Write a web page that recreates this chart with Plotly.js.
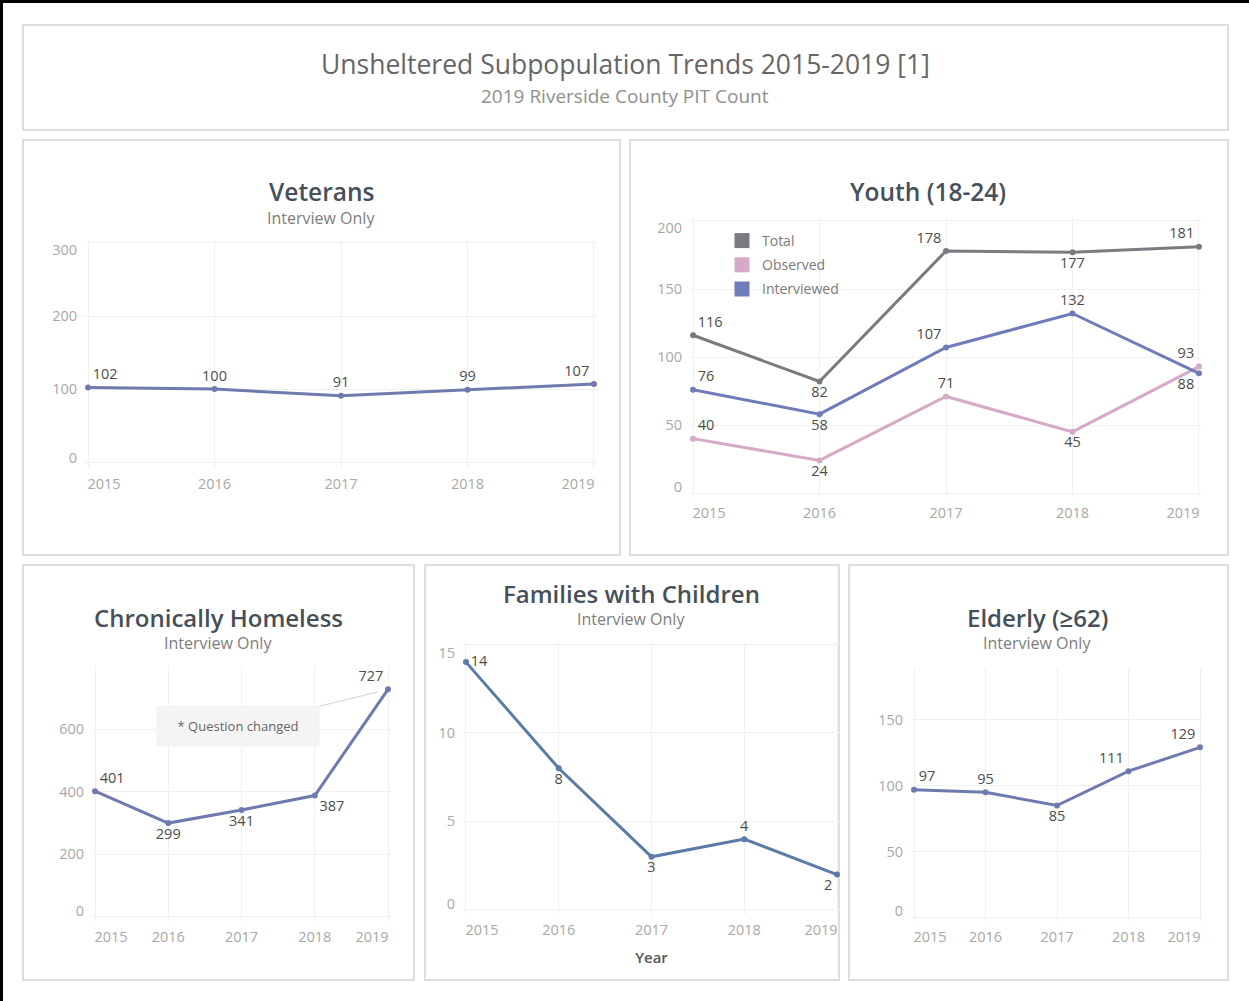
<!DOCTYPE html>
<html>
<head>
<meta charset="utf-8">
<script src="https://cdn.plot.ly/plotly-3.0.1.min.js"></script>
<style>
  html, body { margin: 0; padding: 0; background: #ffffff; }
  #chart { width: 1249px; height: 1001px; }
</style>
</head>
<body>
<div id="chart"></div>
<script>
// ---------------- DATA ----------------
const years = [2015, 2016, 2017, 2018, 2019];
const yearLabels = ["2015", "2016", "2017", "2018", "2019"];

const veterans = [102, 100, 91, 99, 107];

const youthTotal = [116, 82, 178, 177, 181];
const youthObserved = [40, 24, 71, 45, 93];
const youthInterviewed = [76, 58, 107, 132, 88];

const chronic = [401, 299, 341, 387, 727];
const families = [14, 8, 3, 4, 2];
const elderly = [97, 95, 85, 111, 129];

const veteransTicks = [0, 100, 200, 300];
const youthTicks = [0, 50, 100, 150, 200];
const chronicTicks = [0, 200, 400, 600];
const familiesTicks = [0, 5, 10, 15];
const elderlyTicks = [0, 50, 100, 150];

const mainTitle = "Unsheltered Subpopulation Trends 2015-2019 [1]";
const mainSubtitle = "2019 Riverside County PIT Count";
const interviewNote = "Interview Only";
const questionNote = "* Question changed";

// ---------------- LAYOUT HELPERS ----------------
const W = 1249, H = 1001;
const FONT = '"Open Sans", "Noto Sans", sans-serif';

const C_LINE = '#6f7aae';
const C_TOTAL = '#7a7a80';
const C_OBS = '#d6a9c8';
const C_INT = '#6f7cb8';
const C_FAM = '#5a7ba8';
const C_LABEL = '#4d4d4d';
const GRID = '#f0f0f0';
const TICKFONT = { family: FONT, size: 14.5, color: '#a8a8a8' };

function lineTrace(y, color, xa, ya, positions, name) {
  return {
    type: 'scatter', mode: 'lines+markers+text',
    x: years, y: y, xaxis: xa, yaxis: ya,
    name: name || '', showlegend: false,
    line: { color: color, width: 3 },
    marker: { color: color, size: 6 },
    text: y.map(String),
    textposition: positions,
    textfont: { family: FONT, size: 14.5, color: C_LABEL },
    cliponaxis: false,
    hoverinfo: 'x+y'
  };
}

const traces = [
  lineTrace(veterans, C_LINE, 'x', 'y',
    ['top right', 'top center', 'top center', 'top center', 'top left']),
  lineTrace(youthTotal, C_TOTAL, 'x2', 'y2',
    ['top right', 'bottom center', 'top left', 'bottom center', 'top left'], 'Total'),
  lineTrace(youthObserved, C_OBS, 'x2', 'y2',
    ['top right', 'bottom center', 'top center', 'bottom center', 'top left'], 'Observed'),
  lineTrace(youthInterviewed, C_INT, 'x2', 'y2',
    ['top right', 'bottom center', 'top left', 'top center', 'bottom left'], 'Interviewed'),
  lineTrace(chronic, C_LINE, 'x3', 'y3',
    ['top right', 'bottom center', 'bottom center', 'bottom right', 'top left']),
  lineTrace(families, C_FAM, 'x4', 'y4',
    ['middle right', 'bottom center', 'bottom center', 'top center', 'bottom left']),
  lineTrace(elderly, C_LINE, 'x5', 'y5',
    ['top right', 'top center', 'bottom center', 'top left', 'top left'])
];

// legend swatches (squares) for the Youth panel
[['Total', C_TOTAL], ['Observed', C_OBS], ['Interviewed', C_INT]].forEach(([n, c], i) => {
  traces.push({
    type: 'scatter', mode: 'markers', x: [null], y: [null],
    xaxis: 'x2', yaxis: 'y2', name: n, showlegend: true,
    legendgroup: 'g' + i,
    marker: { symbol: 'square', size: 15, color: c }
  });
});

// Tableau-style: end tick labels are kept inside the axis extent
function clampLabels(vals, range, pxLen, halfPx) {
  const scale = pxLen / (range[1] - range[0]);
  const lo = range[0] + halfPx / scale, hi = range[1] - halfPx / scale;
  return vals.map(v => Math.min(hi, Math.max(lo, v)));
}

function xAxis(l, r, range, anchor, extra) {
  return Object.assign({
    domain: [l / W, r / W], range: range, type: 'linear',
    tickmode: 'array',
    tickvals: clampLabels(years, range, r - l, 19), ticktext: yearLabels,
    showgrid: false,
    minor: { tickmode: 'array', tickvals: years, showgrid: true, gridcolor: GRID, gridwidth: 1, ticks: '' },
    zeroline: false, showline: false, ticks: '',
    ticklabelstandoff: 5,
    tickfont: TICKFONT, anchor: anchor, fixedrange: true
  }, extra || {});
}
function yAxis(t, b, range, ticks, anchor) {
  return {
    domain: [1 - b / H, 1 - t / H], range: range, type: 'linear',
    tickmode: 'array',
    tickvals: clampLabels(ticks, range, b - t, 10), ticktext: ticks.map(String),
    showgrid: false,
    minor: { tickmode: 'array', tickvals: ticks, showgrid: true, gridcolor: GRID, gridwidth: 1, ticks: '' },
    zeroline: false, showline: false, ticks: '',
    ticklabelstandoff: 7,
    tickfont: TICKFONT, anchor: anchor, fixedrange: true
  };
}

// panel boxes
const boxes = [
  [23, 25, 1228, 130],
  [23, 140, 620, 555],
  [630, 140, 1228, 555],
  [23, 565, 414, 980],
  [425, 565, 839, 980],
  [849, 565, 1228, 980]
];
const shapes = boxes.map(b => ({
  type: 'rect', xref: 'paper', yref: 'paper',
  x0: b[0] / W, x1: b[2] / W, y0: 1 - b[3] / H, y1: 1 - b[1] / H,
  line: { color: '#dedede', width: 2 }, fillcolor: 'rgba(0,0,0,0)', layer: 'below'
}));
// black frame on top and left edges
shapes.push({ type: 'line', xref: 'paper', yref: 'paper', x0: 0, x1: 1, y0: 1 - 1.5 / H, y1: 1 - 1.5 / H, line: { color: '#000', width: 3 } });
shapes.push({ type: 'line', xref: 'paper', yref: 'paper', x0: 1.5 / W, x1: 1.5 / W, y0: 0, y1: 1, line: { color: '#000', width: 3 } });

function textAnn(text, cx, cy, size, color, weight) {
  return {
    text: text, xref: 'paper', yref: 'paper', x: cx / W, y: 1 - cy / H,
    xanchor: 'center', yanchor: 'middle', showarrow: false,
    font: { family: FONT, size: size, color: color, weight: weight || 400 }
  };
}

const TITLE_C = '#46505a';
const SUB_C = '#7d7d7d';
const annotations = [
  textAnn(mainTitle, 625, 64, 26.5, '#666666'),
  textAnn(mainSubtitle, 625, 96, 19, '#8f8f8f'),
  textAnn('Veterans', 321, 192, 24.5, TITLE_C, 600),
  textAnn(interviewNote, 321, 218, 16, SUB_C),
  textAnn('Youth (18-24)', 928, 192, 24.5, TITLE_C, 600),
  textAnn('Chronically Homeless', 218, 617, 24, TITLE_C, 600),
  textAnn(interviewNote, 218, 643, 16, SUB_C),
  textAnn('Families with Children', 631, 593, 24, TITLE_C, 600),
  textAnn(interviewNote, 631, 619, 16, SUB_C),
  textAnn('Elderly (≥62)', 1037, 617, 24, TITLE_C, 600),
  textAnn(interviewNote, 1037, 643, 16, SUB_C),
  {
    text: questionNote, xref: 'x3', yref: 'y3', x: years[4], y: chronic[4],
    showarrow: true, arrowhead: 0, arrowwidth: 1, arrowcolor: '#d4d4d4',
    ax: -150, ay: 37, standoff: 10,
    bgcolor: '#f4f4f4', width: 160, height: 38,
    font: { family: FONT, size: 13, color: '#666666' }
  }
];

const layout = {
  width: W, height: H,
  margin: { l: 0, r: 0, t: 0, b: 0 },
  paper_bgcolor: '#ffffff', plot_bgcolor: 'rgba(0,0,0,0)',
  showlegend: true,
  legend: {
    x: 722 / W, y: 1 - 225 / H, xanchor: 'left', yanchor: 'top',
    bgcolor: 'rgba(0,0,0,0)', borderwidth: 0,
    font: { family: FONT, size: 14, color: '#7a7a7a' },
    itemwidth: 30, tracegroupgap: 3, traceorder: 'grouped'
  },
  xaxis: xAxis(85, 597, [2014.976, 2019.024], 'y'),
  yaxis: yAxis(240, 468, [-8, 304], veteransTicks, 'x'),
  xaxis2: xAxis(690, 1202, [2014.976, 2019.024], 'y2'),
  yaxis2: yAxis(218, 497, [-2.9, 202.2], youthTicks, 'x2'),
  xaxis3: xAxis(92, 391, [2014.959, 2019.041], 'y3'),
  yaxis3: yAxis(665, 921, [-14.4, 805], chronicTicks, 'x3'),
  xaxis4: xAxis(463, 840, [2014.968, 2019.032], 'y4', {
    title: { text: 'Year', font: { family: FONT, size: 15, color: '#555555', weight: 600 }, standoff: 14 }
  }),
  yaxis4: yAxis(643, 914, [-0.23, 15.08], familiesTicks, 'x4'),
  xaxis5: xAxis(911, 1203, [2014.958, 2019.042], 'y5'),
  yaxis5: yAxis(668, 921, [-2.3, 189], elderlyTicks, 'x5'),
  shapes: shapes,
  annotations: annotations
};

Plotly.newPlot('chart', traces, layout, { displayModeBar: false, staticPlot: false });
</script>
</body>
</html>
